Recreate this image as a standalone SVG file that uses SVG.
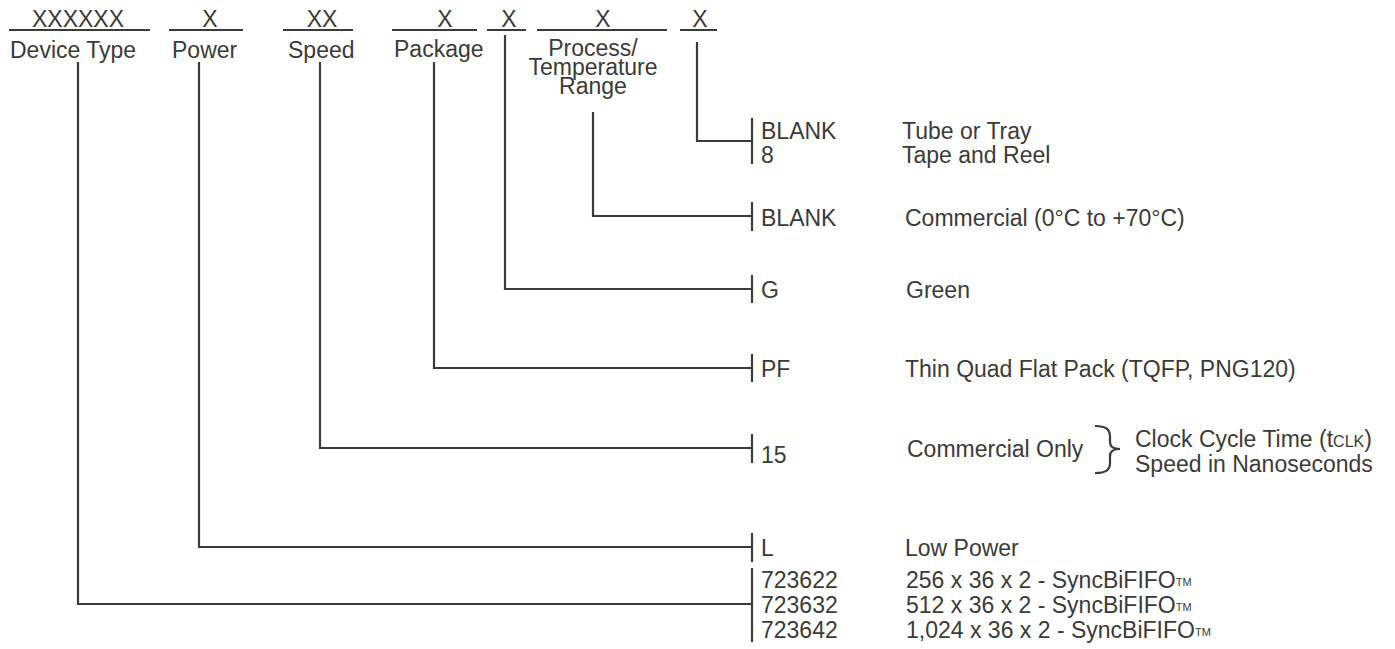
<svg xmlns="http://www.w3.org/2000/svg" width="1395" height="649" viewBox="0 0 1395 649">
<style>
text{font-family:"Liberation Sans",Arial,sans-serif;font-size:23px;fill:#3b3b38}
.l{stroke:#3b3b38;stroke-width:2.2;fill:none}
.m{text-anchor:middle}
.s{font-size:16px}
.tm{font-size:11px}
</style>
<rect width="1395" height="649" fill="#fff"/>
<g id="headers">
<g id="h-device"><line class="l" x1="9" y1="30" x2="150" y2="30"/><text class="m" x="78" y="27">XXXXXX</text><text x="10" y="58">Device Type</text></g>
<g id="h-power"><line class="l" x1="169" y1="30" x2="243" y2="30"/><text class="m" x="210" y="27">X</text><text x="172" y="58">Power</text></g>
<g id="h-speed"><line class="l" x1="283" y1="30" x2="353" y2="30"/><text class="m" x="322" y="27">XX</text><text x="288" y="58">Speed</text></g>
<g id="h-package"><line class="l" x1="392" y1="30" x2="477" y2="30"/><text class="m" x="445" y="27">X</text><text x="394" y="57">Package</text></g>
<g id="h-green"><line class="l" x1="487" y1="30" x2="526" y2="30"/><text class="m" x="509" y="27">X</text></g>
<g id="h-process"><line class="l" x1="537" y1="30" x2="667" y2="30"/><text class="m" x="603" y="27">X</text><text class="m" x="593" y="56">Process/</text><text class="m" x="593" y="75">Temperature</text><text class="m" x="593" y="94">Range</text></g>
<g id="h-pack"><line class="l" x1="680" y1="30" x2="717" y2="30"/><text class="m" x="700" y="27">X</text></g>
</g>
<g id="connectors">
<polyline class="l" points="697,42 697,141 752,141"/>
<line class="l" x1="752" y1="118" x2="752" y2="164"/>
<polyline class="l" points="593,112 593,216 752,216"/>
<line class="l" x1="752" y1="202" x2="752" y2="231"/>
<polyline class="l" points="505,35 505,289 752,289"/>
<line class="l" x1="752" y1="275" x2="752" y2="303"/>
<polyline class="l" points="434,62 434,368 752,368"/>
<line class="l" x1="752" y1="354" x2="752" y2="382"/>
<polyline class="l" points="320,62 320,448 752,448"/>
<line class="l" x1="752" y1="434" x2="752" y2="463"/>
<polyline class="l" points="199,62 199,547 752,547"/>
<line class="l" x1="752" y1="533" x2="752" y2="562"/>
<polyline class="l" points="78,62 78,604 752,604"/>
<line class="l" x1="752" y1="568" x2="752" y2="642"/>
</g>
<g id="opt-packing"><text x="761" y="139">BLANK</text><text x="761" y="163">8</text><text x="902" y="139">Tube or Tray</text><text x="902" y="163">Tape and Reel</text></g>
<g id="opt-temp"><text x="761" y="226">BLANK</text><text x="905" y="226">Commercial (0°C to +70°C)</text></g>
<g id="opt-green"><text x="761" y="298">G</text><text x="906" y="298">Green</text></g>
<g id="opt-package"><text x="761" y="377">PF</text><text x="905" y="377">Thin Quad Flat Pack (TQFP, PNG120)</text></g>
<g id="opt-speed"><text x="761" y="463">15</text><text x="907" y="457">Commercial Only</text>
<path class="l" stroke-width="2.5" d="M1095,426 C1107,426 1110,430 1110,437 L1110,442 C1110,447 1113,449 1120,449 C1113,449 1110,451 1110,456 L1110,463 C1110,470 1106,473 1095,473"/>
<text x="1135" y="447">Clock Cycle Time (t<tspan class="s">CLK</tspan>)</text><text x="1135" y="472">Speed in Nanoseconds</text></g>
<g id="opt-power"><text x="761" y="556">L</text><text x="905" y="556">Low Power</text></g>
<g id="opt-device"><text x="761" y="588">723622</text><text x="761" y="613">723632</text><text x="761" y="638">723642</text>
<text x="906" y="588">256 x 36 x 2 - SyncBiFIFO<tspan class="tm" dy="-2">TM</tspan></text>
<text x="906" y="613">512 x 36 x 2 - SyncBiFIFO<tspan class="tm" dy="-2">TM</tspan></text>
<text x="906" y="638">1,024 x 36 x 2 - SyncBiFIFO<tspan class="tm" dy="-2">TM</tspan></text></g>
</svg>
